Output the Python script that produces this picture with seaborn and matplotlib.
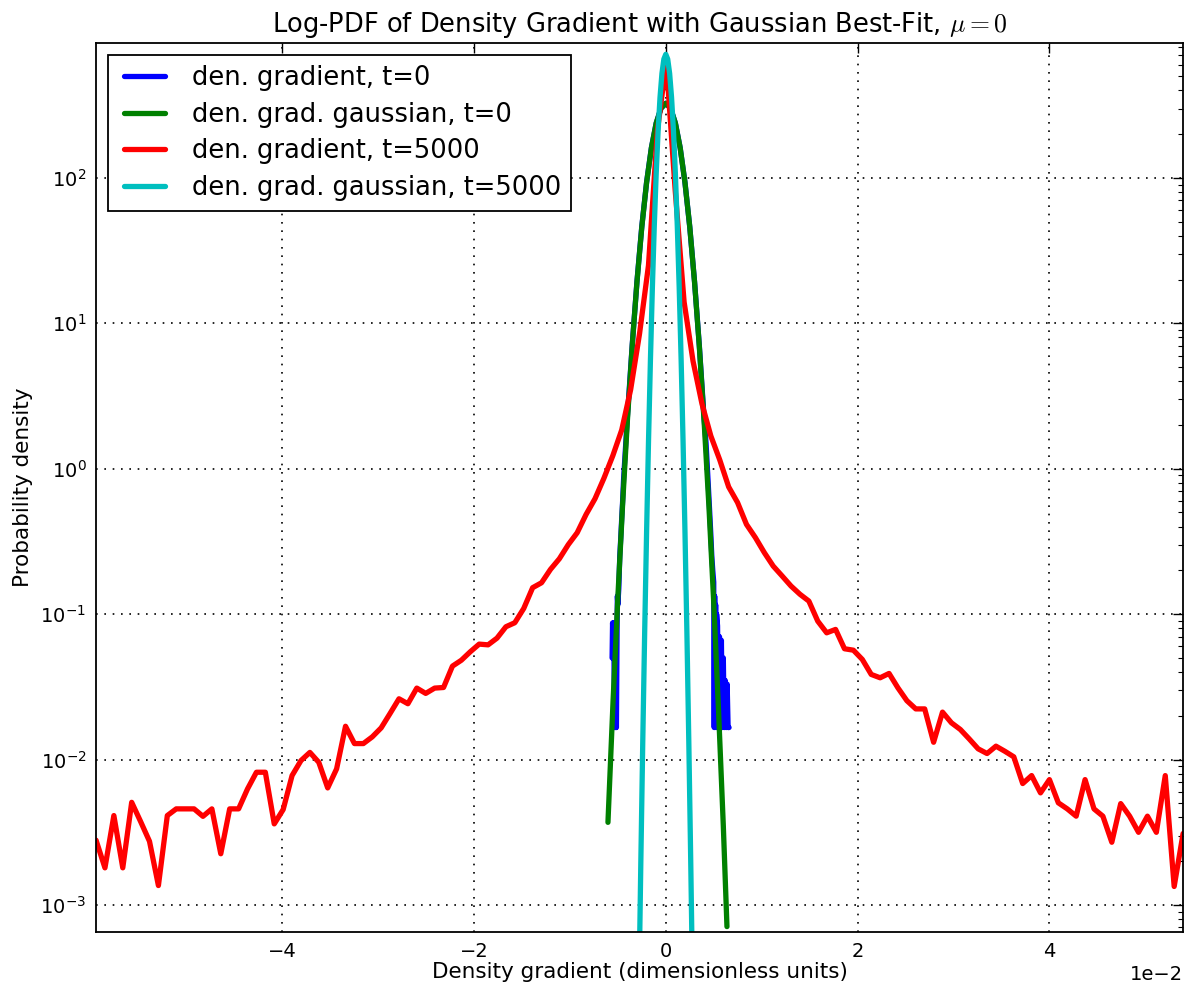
import numpy as np
import pandas as pd
import matplotlib
matplotlib.use("Agg")
import matplotlib.pyplot as plt
import seaborn as sns
from matplotlib.lines import Line2D
from matplotlib.legend_handler import HandlerLine2D
from matplotlib.ticker import LogLocator, ScalarFormatter, NullFormatter

# ---------------- data (x in units of 1e-2) ----------------
SCALE = 1e-2

# den. gradient, t=5000 : histogram bin centres span the whole x range
red_x_first = -5.942
red_x_last = 5.395
red_y = [
    2.79e-3, 1.80e-3, 4.12e-3, 1.80e-3, 5.08e-3, 3.75e-3, 2.74e-3, 1.36e-3, 4.12e-3, 4.58e-3,
    4.58e-3, 4.58e-3, 4.07e-3, 4.58e-3, 2.25e-3, 4.58e-3, 4.58e-3, 6.28e-3, 8.18e-3, 8.18e-3,
    3.61e-3, 4.53e-3, 7.76e-3, 9.84e-3, 0.0112, 9.57e-3, 6.38e-3, 8.63e-3, 0.01694, 0.01288,
    0.01288, 0.01432, 0.01652, 0.02075, 0.02618, 0.0242, 0.0310, 0.0285, 0.0310, 0.0313,
    0.0439, 0.0482, 0.0551, 0.0622, 0.0615, 0.0684, 0.0819, 0.0873, 0.1094, 0.152,
    0.1644, 0.203, 0.2404, 0.3006, 0.363, 0.485, 0.622, 0.86, 1.23, 1.85,
    3.5, 8.5, 25.0, 210.0, 630.0, 82.0, 14.0, 5.5, 2.8, 1.68,
    1.15, 0.75, 0.585, 0.414, 0.336, 0.265, 0.214, 0.183, 0.156, 0.137,
    0.123, 0.0895, 0.0744, 0.0785, 0.0578, 0.0565, 0.0488, 0.0385, 0.0365, 0.0391,
    0.0311, 0.0254, 0.0223, 0.0223, 0.01315, 0.0212, 0.0179, 0.0161, 0.01386, 0.01185,
    0.0110, 0.01236, 0.0114, 0.01044, 0.00684, 0.00776, 0.0059, 0.00728, 0.00504, 0.00458,
    0.00408, 0.00728, 0.00458, 0.00408, 0.0027, 0.00498, 0.00408, 0.00316, 0.00408, 0.00316,
    0.00776, 0.00134, 0.0031,
]

# den. gradient, t=0
blue_x = [-0.560, -0.555, -0.550, -0.545, -0.540, -0.535, -0.530, -0.525, -0.520, -0.515,
          -0.510, -0.505, -0.500, -0.490, -0.480, -0.470, -0.460, -0.450, -0.440, -0.420,
          -0.400, -0.350, -0.300, -0.250, -0.200, -0.150, -0.100, -0.050, 0.000, 0.050,
          0.100, 0.150, 0.200, 0.250, 0.300, 0.350, 0.400, 0.420, 0.440, 0.455,
          0.470, 0.480, 0.490, 0.500, 0.505, 0.510, 0.515, 0.520, 0.525, 0.530,
          0.540, 0.550, 0.560, 0.570, 0.580, 0.590, 0.600, 0.610, 0.620, 0.630,
          0.640, 0.650, 0.660]
blue_y = [0.050, 0.087, 0.066, 0.087, 0.050, 0.0166, 0.050, 0.0166, 0.033, 0.0166,
          0.050, 0.133, 0.116, 0.150, 0.250, 0.330, 0.450, 0.600, 0.850, 1.40,
          2.30, 7.10, 19.6, 46.5, 93.5, 161.0, 238.0, 301.0, 326.0, 301.0,
          238.0, 161.0, 93.0, 46.0, 19.3, 7.0, 2.2, 1.50, 0.85, 0.55,
          0.35, 0.25, 0.20, 0.166, 0.0166, 0.133, 0.050, 0.116, 0.0166, 0.100,
          0.083, 0.0166, 0.070, 0.0166, 0.066, 0.0166, 0.050, 0.0166, 0.035, 0.0166,
          0.033, 0.0166, 0.0166]

# den. grad. gaussian, t=0
green_x = [-0.603, -0.600, -0.550, -0.500, -0.450, -0.400, -0.350, -0.300, -0.250, -0.200,
           -0.150, -0.100, -0.050, 0.000, 0.050, 0.100, 0.150, 0.200, 0.250, 0.300,
           0.350, 0.400, 0.450, 0.500, 0.550, 0.600, 0.638]
green_y = [0.0037, 0.00414, 0.0251, 0.130, 0.574, 2.17, 7.03, 19.45, 46.0, 93.1,
           161.0, 238.0, 301.0, 326.0, 301.0, 238.0, 161.0, 93.1, 46.0, 19.2,
           6.9, 2.1, 0.55, 0.12, 0.0218, 0.0035, 0.00071]

# den. grad. gaussian, t=5000
cyan_x = [-0.30, -0.28, -0.26, -0.24, -0.22, -0.20, -0.18, -0.16, -0.14, -0.12, -0.10,
          -0.08, -0.06, -0.04, -0.02, 0.00, 0.02, 0.04, 0.06, 0.08, 0.10, 0.12,
          0.14, 0.16, 0.18, 0.20, 0.22, 0.24, 0.26, 0.28, 0.30]
cyan_y = [2.95e-5, 2.637e-4, 2.027e-3, 0.01339, 0.07606, 0.3715, 1.561, 5.633, 17.49, 46.7, 107.2,
          211.4, 358.6, 523.4, 656.1, 707.9, 656.1, 523.4, 358.6, 211.4, 107.2, 46.7,
          17.49, 5.633, 1.561, 0.3715, 0.07606, 0.01339, 2.027e-3, 2.637e-4, 2.95e-5]

labels = ["den. gradient, t=0", "den. grad. gaussian, t=0",
          "den. gradient, t=5000", "den. grad. gaussian, t=5000"]
colors = ["#0000ff", "#008000", "#ff0000", "#00bfbf"]

title = r"Log-PDF of Density Gradient with Gaussian Best-Fit, $\mu=0$"
xlabel = "Density gradient (dimensionless units)"
ylabel = "Probability density"
y_limits = (6.52e-4, 847.0)

# ---------------- plotting ----------------
sns.set_style("white")
plt.rcParams.update({
    "font.family": ["DejaVu Sans"],
    "mathtext.fontset": "cm",
    "text.color": "black",
    "axes.labelcolor": "black",
    "axes.edgecolor": "black",
    "axes.linewidth": 1.3,
    "xtick.direction": "in",
    "ytick.direction": "in",
    "xtick.top": True,
    "ytick.right": True,
    "xtick.color": "black",
    "ytick.color": "black",
    "legend.labelcolor": "black",
})

red_x = np.linspace(red_x_first, red_x_last, len(red_y))

fig = plt.figure(figsize=(11.96, 9.92), dpi=100)
ax = fig.add_axes([0.0803, 0.0605, 0.9089, 0.8962])
ax.set_yscale("log")

series = [
    (np.array(blue_x) * SCALE, blue_y),
    (np.array(green_x) * SCALE, green_y),
    (red_x * SCALE, red_y),
    (np.array(cyan_x) * SCALE, cyan_y),
]
for (xs, ys), lab, col in zip(series, labels, colors):
    df = pd.DataFrame({"x": xs, "y": ys})
    sns.lineplot(data=df, x="x", y="y", ax=ax, color=col, linewidth=3.8,
                 label=lab, sort=False, estimator=None)

ax.set_xlim(red_x_first * SCALE, red_x_last * SCALE)
ax.set_ylim(*y_limits)

ax.yaxis.set_major_locator(LogLocator(base=10, numticks=20))
ax.yaxis.set_minor_locator(LogLocator(base=10, subs=np.arange(2, 10), numticks=20))
ax.yaxis.set_minor_formatter(NullFormatter())
ax.xaxis.set_major_locator(matplotlib.ticker.MultipleLocator(0.02))
fmt = ScalarFormatter(useMathText=False)
fmt.set_powerlimits((0, 0))
ax.xaxis.set_major_formatter(fmt)
ax.yaxis.get_offset_text().set_visible(False)

ax.tick_params(axis="both", which="major", length=7, width=1.0, labelsize=14, pad=7)
ax.tick_params(axis="both", which="minor", length=3.5, width=0.8)
ax.xaxis.get_offset_text().set_fontsize(14)

ax.grid(True, which="major", color="black", linestyle=(0, (1, 4)), linewidth=1.2)

ax.set_title(title, fontsize=18.5, pad=8)
ax.set_xlabel(xlabel, fontsize=15.5, labelpad=1)
ax.set_ylabel(ylabel, fontsize=15.5, labelpad=5)

leg = ax.legend(loc="upper left", fontsize=18.5, frameon=True, fancybox=False,
                edgecolor="black", framealpha=1, borderaxespad=0.45, borderpad=0.4,
                handlelength=1.84, handletextpad=1.04, labelspacing=0.42,
                handler_map={Line2D: HandlerLine2D(xpad=0.25)})
leg.get_frame().set_linewidth(1.3)
for t in leg.get_texts():
    t.set_color("black")

fig.savefig("out.png", dpi=100)
